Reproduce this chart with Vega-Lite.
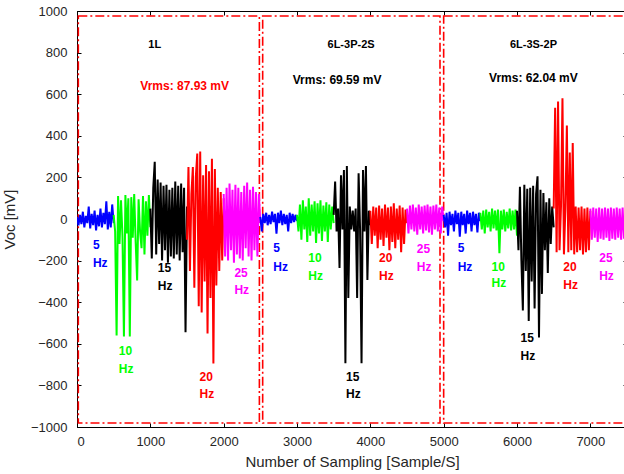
{
"$schema": "https://vega.github.io/schema/vega-lite/v6.json",
"width": 550, "height": 416,
"autosize": {"type": "none"},
"padding": {"left": 77, "top": 11, "right": 0, "bottom": 47},
"background": "white",
"config": {
 "view": {"stroke": "black", "strokeWidth": 1},
 "axis": {"grid": false, "domainColor": "black", "tickColor": "black", "labelFont": "Liberation Sans", "labelFontSize": 13, "labelColor": "#262626", "titleFont": "Liberation Sans", "titleFontSize": 15, "titleFontWeight": "normal", "titleColor": "#262626", "format": "d"}
},
"datasets": {
 "rects": [
  {"x": 18, "x2": 2487, "y": -981, "y2": 976},
  {"x": 2532, "x2": 4950, "y": -981, "y2": 976},
  {"x": 5000, "x2": 7500, "y": -981, "y2": 976}
 ],
 "sig": [
{"x":0,"y":10,"s":"1b"},{"x":20,"y":-30,"s":"1b"},{"x":40,"y":20,"s":"1b"},{"x":60,"y":-25,"s":"1b"},{"x":80,"y":35,"s":"1b"},{"x":100,"y":-40,"s":"1b"},{"x":120,"y":15,"s":"1b"},{"x":140,"y":-20,"s":"1b"},{"x":160,"y":60,"s":"1b"},{"x":180,"y":-45,"s":"1b"},{"x":200,"y":25,"s":"1b"},{"x":220,"y":-30,"s":"1b"},{"x":240,"y":40,"s":"1b"},{"x":260,"y":-55,"s":"1b"},{"x":280,"y":20,"s":"1b"},{"x":300,"y":-35,"s":"1b"},{"x":320,"y":50,"s":"1b"},{"x":340,"y":-40,"s":"1b"},{"x":360,"y":30,"s":"1b"},{"x":380,"y":-25,"s":"1b"},{"x":400,"y":85,"s":"1b"},{"x":420,"y":-50,"s":"1b"},{"x":440,"y":35,"s":"1b"},{"x":460,"y":-40,"s":"1b"},{"x":480,"y":70,"s":"1b"},{"x":500,"y":-20,"s":"1b"},
{"x":500,"y":20,"s":"1g"},{"x":520,"y":-60,"s":"1g"},{"x":540,"y":-560,"s":"1g"},{"x":560,"y":110,"s":"1g"},{"x":580,"y":-120,"s":"1g"},{"x":600,"y":90,"s":"1g"},{"x":620,"y":-80,"s":"1g"},{"x":640,"y":-565,"s":"1g"},{"x":660,"y":115,"s":"1g"},{"x":680,"y":-70,"s":"1g"},{"x":700,"y":100,"s":"1g"},{"x":720,"y":-565,"s":"1g"},{"x":740,"y":105,"s":"1g"},{"x":760,"y":-90,"s":"1g"},{"x":780,"y":120,"s":"1g"},{"x":800,"y":-110,"s":"1g"},{"x":820,"y":-295,"s":"1g"},{"x":840,"y":95,"s":"1g"},{"x":860,"y":-60,"s":"1g"},{"x":880,"y":-140,"s":"1g"},{"x":900,"y":110,"s":"1g"},{"x":920,"y":-170,"s":"1g"},{"x":940,"y":85,"s":"1g"},{"x":960,"y":-80,"s":"1g"},{"x":980,"y":115,"s":"1g"},{"x":1000,"y":-40,"s":"1g"},
{"x":1000,"y":50,"s":"1k"},{"x":1020,"y":-190,"s":"1k"},{"x":1040,"y":150,"s":"1k"},{"x":1060,"y":275,"s":"1k"},{"x":1080,"y":-170,"s":"1k"},{"x":1100,"y":190,"s":"1k"},{"x":1120,"y":-120,"s":"1k"},{"x":1140,"y":175,"s":"1k"},{"x":1160,"y":-200,"s":"1k"},{"x":1180,"y":160,"s":"1k"},{"x":1200,"y":-150,"s":"1k"},{"x":1220,"y":165,"s":"1k"},{"x":1240,"y":-210,"s":"1k"},{"x":1260,"y":140,"s":"1k"},{"x":1280,"y":-180,"s":"1k"},{"x":1300,"y":150,"s":"1k"},{"x":1320,"y":-190,"s":"1k"},{"x":1340,"y":180,"s":"1k"},{"x":1360,"y":-170,"s":"1k"},{"x":1380,"y":160,"s":"1k"},{"x":1400,"y":-200,"s":"1k"},{"x":1420,"y":170,"s":"1k"},{"x":1440,"y":-160,"s":"1k"},{"x":1460,"y":150,"s":"1k"},{"x":1480,"y":-545,"s":"1k"},{"x":1500,"y":60,"s":"1k"},
{"x":1500,"y":-100,"s":"1r"},{"x":1520,"y":250,"s":"1r"},{"x":1540,"y":-250,"s":"1r"},{"x":1560,"y":120,"s":"1r"},{"x":1580,"y":250,"s":"1r"},{"x":1600,"y":-330,"s":"1r"},{"x":1620,"y":200,"s":"1r"},{"x":1640,"y":315,"s":"1r"},{"x":1660,"y":-420,"s":"1r"},{"x":1680,"y":325,"s":"1r"},{"x":1700,"y":-450,"s":"1r"},{"x":1720,"y":210,"s":"1r"},{"x":1740,"y":-300,"s":"1r"},{"x":1760,"y":260,"s":"1r"},{"x":1780,"y":-550,"s":"1r"},{"x":1800,"y":230,"s":"1r"},{"x":1820,"y":-380,"s":"1r"},{"x":1840,"y":290,"s":"1r"},{"x":1860,"y":-695,"s":"1r"},{"x":1880,"y":240,"s":"1r"},{"x":1900,"y":-320,"s":"1r"},{"x":1920,"y":150,"s":"1r"},{"x":1940,"y":-250,"s":"1r"},{"x":1960,"y":130,"s":"1r"},{"x":1980,"y":-200,"s":"1r"},{"x":2000,"y":100,"s":"1r"},
{"x":2000,"y":120,"s":"1m"},{"x":2020,"y":-180,"s":"1m"},{"x":2040,"y":150,"s":"1m"},{"x":2060,"y":-200,"s":"1m"},{"x":2080,"y":170,"s":"1m"},{"x":2100,"y":-150,"s":"1m"},{"x":2120,"y":140,"s":"1m"},{"x":2140,"y":-210,"s":"1m"},{"x":2160,"y":165,"s":"1m"},{"x":2180,"y":-170,"s":"1m"},{"x":2200,"y":150,"s":"1m"},{"x":2220,"y":-190,"s":"1m"},{"x":2240,"y":130,"s":"1m"},{"x":2260,"y":-200,"s":"1m"},{"x":2280,"y":160,"s":"1m"},{"x":2300,"y":-140,"s":"1m"},{"x":2320,"y":175,"s":"1m"},{"x":2340,"y":-180,"s":"1m"},{"x":2360,"y":140,"s":"1m"},{"x":2380,"y":-200,"s":"1m"},{"x":2400,"y":155,"s":"1m"},{"x":2420,"y":-150,"s":"1m"},{"x":2440,"y":130,"s":"1m"},{"x":2460,"y":-180,"s":"1m"},{"x":2480,"y":120,"s":"1m"},{"x":2500,"y":-20,"s":"1m"},
{"x":2500,"y":10,"s":"2b"},{"x":2520,"y":-60,"s":"2b"},{"x":2540,"y":25,"s":"2b"},{"x":2560,"y":-20,"s":"2b"},{"x":2580,"y":30,"s":"2b"},{"x":2600,"y":-30,"s":"2b"},{"x":2620,"y":20,"s":"2b"},{"x":2640,"y":-25,"s":"2b"},{"x":2660,"y":35,"s":"2b"},{"x":2680,"y":-15,"s":"2b"},{"x":2700,"y":25,"s":"2b"},{"x":2720,"y":-70,"s":"2b"},{"x":2740,"y":30,"s":"2b"},{"x":2760,"y":-20,"s":"2b"},{"x":2780,"y":40,"s":"2b"},{"x":2800,"y":-30,"s":"2b"},{"x":2820,"y":25,"s":"2b"},{"x":2840,"y":-25,"s":"2b"},{"x":2860,"y":20,"s":"2b"},{"x":2880,"y":-60,"s":"2b"},{"x":2900,"y":30,"s":"2b"},{"x":2920,"y":-20,"s":"2b"},{"x":2940,"y":25,"s":"2b"},{"x":2960,"y":-15,"s":"2b"},{"x":2980,"y":20,"s":"2b"},{"x":3000,"y":-10,"s":"2b"},
{"x":3000,"y":20,"s":"2g"},{"x":3020,"y":-60,"s":"2g"},{"x":3040,"y":70,"s":"2g"},{"x":3060,"y":-100,"s":"2g"},{"x":3080,"y":90,"s":"2g"},{"x":3100,"y":-50,"s":"2g"},{"x":3120,"y":60,"s":"2g"},{"x":3140,"y":-110,"s":"2g"},{"x":3160,"y":100,"s":"2g"},{"x":3180,"y":-80,"s":"2g"},{"x":3200,"y":70,"s":"2g"},{"x":3220,"y":-60,"s":"2g"},{"x":3240,"y":85,"s":"2g"},{"x":3260,"y":-115,"s":"2g"},{"x":3280,"y":75,"s":"2g"},{"x":3300,"y":-70,"s":"2g"},{"x":3320,"y":90,"s":"2g"},{"x":3340,"y":-105,"s":"2g"},{"x":3360,"y":65,"s":"2g"},{"x":3380,"y":-60,"s":"2g"},{"x":3400,"y":80,"s":"2g"},{"x":3420,"y":-110,"s":"2g"},{"x":3440,"y":70,"s":"2g"},{"x":3460,"y":-50,"s":"2g"},{"x":3480,"y":60,"s":"2g"},{"x":3500,"y":-20,"s":"2g"},
{"x":3500,"y":20,"s":"2k"},{"x":3520,"y":180,"s":"2k"},{"x":3540,"y":-60,"s":"2k"},{"x":3560,"y":50,"s":"2k"},{"x":3580,"y":-236,"s":"2k"},{"x":3600,"y":210,"s":"2k"},{"x":3620,"y":-50,"s":"2k"},{"x":3640,"y":235,"s":"2k"},{"x":3660,"y":-693,"s":"2k"},{"x":3680,"y":255,"s":"2k"},{"x":3700,"y":-380,"s":"2k"},{"x":3720,"y":60,"s":"2k"},{"x":3740,"y":-50,"s":"2k"},{"x":3760,"y":40,"s":"2k"},{"x":3780,"y":-60,"s":"2k"},{"x":3800,"y":50,"s":"2k"},{"x":3820,"y":-380,"s":"2k"},{"x":3840,"y":220,"s":"2k"},{"x":3860,"y":-50,"s":"2k"},{"x":3880,"y":-693,"s":"2k"},{"x":3900,"y":236,"s":"2k"},{"x":3920,"y":-60,"s":"2k"},{"x":3940,"y":255,"s":"2k"},{"x":3960,"y":-293,"s":"2k"},{"x":3980,"y":40,"s":"2k"},{"x":4000,"y":-30,"s":"2k"},
{"x":4000,"y":40,"s":"2r"},{"x":4020,"y":-120,"s":"2r"},{"x":4040,"y":60,"s":"2r"},{"x":4060,"y":-80,"s":"2r"},{"x":4080,"y":55,"s":"2r"},{"x":4100,"y":-140,"s":"2r"},{"x":4120,"y":65,"s":"2r"},{"x":4140,"y":-100,"s":"2r"},{"x":4160,"y":50,"s":"2r"},{"x":4180,"y":-130,"s":"2r"},{"x":4200,"y":70,"s":"2r"},{"x":4220,"y":-90,"s":"2r"},{"x":4240,"y":55,"s":"2r"},{"x":4260,"y":-150,"s":"2r"},{"x":4280,"y":60,"s":"2r"},{"x":4300,"y":-110,"s":"2r"},{"x":4320,"y":75,"s":"2r"},{"x":4340,"y":-140,"s":"2r"},{"x":4360,"y":50,"s":"2r"},{"x":4380,"y":-100,"s":"2r"},{"x":4400,"y":65,"s":"2r"},{"x":4420,"y":-160,"s":"2r"},{"x":4440,"y":55,"s":"2r"},{"x":4460,"y":-120,"s":"2r"},{"x":4480,"y":45,"s":"2r"},{"x":4500,"y":-20,"s":"2r"},
{"x":4500,"y":50,"s":"2m"},{"x":4520,"y":-70,"s":"2m"},{"x":4540,"y":65,"s":"2m"},{"x":4560,"y":-50,"s":"2m"},{"x":4580,"y":70,"s":"2m"},{"x":4600,"y":-60,"s":"2m"},{"x":4620,"y":55,"s":"2m"},{"x":4640,"y":-75,"s":"2m"},{"x":4660,"y":70,"s":"2m"},{"x":4680,"y":-50,"s":"2m"},{"x":4700,"y":60,"s":"2m"},{"x":4720,"y":-70,"s":"2m"},{"x":4740,"y":65,"s":"2m"},{"x":4760,"y":-55,"s":"2m"},{"x":4780,"y":70,"s":"2m"},{"x":4800,"y":-65,"s":"2m"},{"x":4820,"y":60,"s":"2m"},{"x":4840,"y":-75,"s":"2m"},{"x":4860,"y":65,"s":"2m"},{"x":4880,"y":-50,"s":"2m"},{"x":4900,"y":70,"s":"2m"},{"x":4920,"y":-60,"s":"2m"},{"x":4940,"y":55,"s":"2m"},{"x":4960,"y":-70,"s":"2m"},{"x":4980,"y":60,"s":"2m"},{"x":5000,"y":-10,"s":"2m"},
{"x":5000,"y":20,"s":"3b"},{"x":5020,"y":-40,"s":"3b"},{"x":5040,"y":30,"s":"3b"},{"x":5060,"y":-80,"s":"3b"},{"x":5080,"y":35,"s":"3b"},{"x":5100,"y":-30,"s":"3b"},{"x":5120,"y":25,"s":"3b"},{"x":5140,"y":-60,"s":"3b"},{"x":5160,"y":40,"s":"3b"},{"x":5180,"y":-25,"s":"3b"},{"x":5200,"y":30,"s":"3b"},{"x":5220,"y":-85,"s":"3b"},{"x":5240,"y":35,"s":"3b"},{"x":5260,"y":-30,"s":"3b"},{"x":5280,"y":25,"s":"3b"},{"x":5300,"y":-70,"s":"3b"},{"x":5320,"y":40,"s":"3b"},{"x":5340,"y":-25,"s":"3b"},{"x":5360,"y":30,"s":"3b"},{"x":5380,"y":-60,"s":"3b"},{"x":5400,"y":35,"s":"3b"},{"x":5420,"y":-30,"s":"3b"},{"x":5440,"y":25,"s":"3b"},{"x":5460,"y":-65,"s":"3b"},{"x":5480,"y":30,"s":"3b"},{"x":5500,"y":-10,"s":"3b"},
{"x":5500,"y":30,"s":"3g"},{"x":5520,"y":-50,"s":"3g"},{"x":5540,"y":40,"s":"3g"},{"x":5560,"y":-70,"s":"3g"},{"x":5580,"y":45,"s":"3g"},{"x":5600,"y":-40,"s":"3g"},{"x":5620,"y":35,"s":"3g"},{"x":5640,"y":-60,"s":"3g"},{"x":5660,"y":50,"s":"3g"},{"x":5680,"y":-45,"s":"3g"},{"x":5700,"y":40,"s":"3g"},{"x":5720,"y":-55,"s":"3g"},{"x":5740,"y":45,"s":"3g"},{"x":5760,"y":-165,"s":"3g"},{"x":5780,"y":40,"s":"3g"},{"x":5800,"y":-50,"s":"3g"},{"x":5820,"y":45,"s":"3g"},{"x":5840,"y":-60,"s":"3g"},{"x":5860,"y":35,"s":"3g"},{"x":5880,"y":-45,"s":"3g"},{"x":5900,"y":50,"s":"3g"},{"x":5920,"y":-55,"s":"3g"},{"x":5940,"y":40,"s":"3g"},{"x":5960,"y":-50,"s":"3g"},{"x":5980,"y":45,"s":"3g"},{"x":6000,"y":-80,"s":"3g"},
{"x":6000,"y":40,"s":"3k"},{"x":6020,"y":-150,"s":"3k"},{"x":6040,"y":155,"s":"3k"},{"x":6060,"y":-200,"s":"3k"},{"x":6080,"y":-440,"s":"3k"},{"x":6100,"y":165,"s":"3k"},{"x":6120,"y":-250,"s":"3k"},{"x":6140,"y":145,"s":"3k"},{"x":6160,"y":-490,"s":"3k"},{"x":6180,"y":150,"s":"3k"},{"x":6200,"y":-300,"s":"3k"},{"x":6220,"y":160,"s":"3k"},{"x":6240,"y":-430,"s":"3k"},{"x":6260,"y":120,"s":"3k"},{"x":6280,"y":205,"s":"3k"},{"x":6300,"y":-570,"s":"3k"},{"x":6320,"y":140,"s":"3k"},{"x":6340,"y":-360,"s":"3k"},{"x":6360,"y":125,"s":"3k"},{"x":6380,"y":-150,"s":"3k"},{"x":6400,"y":80,"s":"3k"},{"x":6420,"y":-260,"s":"3k"},{"x":6440,"y":100,"s":"3k"},{"x":6460,"y":-120,"s":"3k"},{"x":6480,"y":60,"s":"3k"},{"x":6500,"y":-40,"s":"3k"},
{"x":6500,"y":50,"s":"3r"},{"x":6520,"y":535,"s":"3r"},{"x":6540,"y":-160,"s":"3r"},{"x":6560,"y":565,"s":"3r"},{"x":6580,"y":-150,"s":"3r"},{"x":6600,"y":60,"s":"3r"},{"x":6620,"y":580,"s":"3r"},{"x":6640,"y":-170,"s":"3r"},{"x":6660,"y":50,"s":"3r"},{"x":6680,"y":450,"s":"3r"},{"x":6700,"y":-160,"s":"3r"},{"x":6720,"y":320,"s":"3r"},{"x":6740,"y":-150,"s":"3r"},{"x":6760,"y":365,"s":"3r"},{"x":6780,"y":-170,"s":"3r"},{"x":6800,"y":60,"s":"3r"},{"x":6820,"y":-160,"s":"3r"},{"x":6840,"y":55,"s":"3r"},{"x":6860,"y":-150,"s":"3r"},{"x":6880,"y":60,"s":"3r"},{"x":6900,"y":-170,"s":"3r"},{"x":6920,"y":50,"s":"3r"},{"x":6940,"y":-160,"s":"3r"},{"x":6960,"y":55,"s":"3r"},{"x":6980,"y":-150,"s":"3r"},{"x":7000,"y":40,"s":"3r"},
{"x":7000,"y":50,"s":"3m"},{"x":7020,"y":-100,"s":"3m"},{"x":7040,"y":55,"s":"3m"},{"x":7060,"y":-90,"s":"3m"},{"x":7080,"y":50,"s":"3m"},{"x":7100,"y":-110,"s":"3m"},{"x":7120,"y":55,"s":"3m"},{"x":7140,"y":-95,"s":"3m"},{"x":7160,"y":50,"s":"3m"},{"x":7180,"y":-100,"s":"3m"},{"x":7200,"y":55,"s":"3m"},{"x":7220,"y":-90,"s":"3m"},{"x":7240,"y":50,"s":"3m"},{"x":7260,"y":-105,"s":"3m"},{"x":7280,"y":55,"s":"3m"},{"x":7300,"y":-95,"s":"3m"},{"x":7320,"y":50,"s":"3m"},{"x":7340,"y":-100,"s":"3m"},{"x":7360,"y":55,"s":"3m"},{"x":7380,"y":-90,"s":"3m"},{"x":7400,"y":50,"s":"3m"},{"x":7420,"y":-100,"s":"3m"},{"x":7440,"y":55,"s":"3m"},{"x":7460,"y":-95,"s":"3m"},{"x":7480,"y":50,"s":"3m"},{"x":7500,"y":-20,"s":"3m"}
 ],
 "names": [
  {"x": 1060, "y": 837, "t": "1L", "s": "1k"},
  {"x": 3737, "y": 837, "t": "6L-3P-2S", "s": "1k"},
  {"x": 6224, "y": 837, "t": "6L-3S-2P", "s": "1k"}
 ],
 "vrms": [
  {"x": 1468, "y": 640, "t": "Vrms: 87.93 mV", "s": "1r"},
  {"x": 3547, "y": 668, "t": "Vrms: 69.59 mV", "s": "1k"},
  {"x": 6224, "y": 678, "t": "Vrms: 62.04 mV", "s": "1k"}
 ],
 "hz": [
  {"x": 217, "y": -125, "t": "5", "s": "1b"}, {"x": 217, "y": -212, "t": "Hz", "s": "1b"},
  {"x": 571, "y": -635, "t": "10", "s": "1g"}, {"x": 571, "y": -721, "t": "Hz", "s": "1g"},
  {"x": 1101, "y": -236, "t": "15", "s": "1k"}, {"x": 1101, "y": -322, "t": "Hz", "s": "1k"},
  {"x": 1672, "y": -760, "t": "20", "s": "1r"}, {"x": 1672, "y": -841, "t": "Hz", "s": "1r"},
  {"x": 2147, "y": -260, "t": "25", "s": "1m"}, {"x": 2147, "y": -341, "t": "Hz", "s": "1m"},
  {"x": 2677, "y": -139, "t": "5", "s": "2b"}, {"x": 2677, "y": -231, "t": "Hz", "s": "2b"},
  {"x": 3153, "y": -188, "t": "10", "s": "2g"}, {"x": 3153, "y": -274, "t": "Hz", "s": "2g"},
  {"x": 3669, "y": -760, "t": "15", "s": "2k"}, {"x": 3669, "y": -841, "t": "Hz", "s": "2k"},
  {"x": 4118, "y": -188, "t": "20", "s": "2r"}, {"x": 4118, "y": -274, "t": "Hz", "s": "2r"},
  {"x": 4634, "y": -144, "t": "25", "s": "2m"}, {"x": 4634, "y": -231, "t": "Hz", "s": "2m"},
  {"x": 5191, "y": -139, "t": "5", "s": "3b"}, {"x": 5191, "y": -231, "t": "Hz", "s": "3b"},
  {"x": 5653, "y": -231, "t": "10", "s": "3g"}, {"x": 5653, "y": -308, "t": "Hz", "s": "3g"},
  {"x": 6048, "y": -572, "t": "15", "s": "3k"}, {"x": 6048, "y": -659, "t": "Hz", "s": "3k"},
  {"x": 6632, "y": -231, "t": "20", "s": "3r"}, {"x": 6632, "y": -317, "t": "Hz", "s": "3r"},
  {"x": 7121, "y": -188, "t": "25", "s": "3m"}, {"x": 7121, "y": -274, "t": "Hz", "s": "3m"}
 ]
},
"encoding": {
 "x": {"field": "x", "type": "quantitative", "scale": {"domain": [0, 7500], "nice": false, "zero": false}},
 "y": {"field": "y", "type": "quantitative", "scale": {"domain": [-1000, 1000], "nice": false}}
},
"layer": [
 {
  "data": {"name": "rects"},
  "mark": {"type": "rect", "fill": null, "fillOpacity": 0, "stroke": "#ff0000", "strokeWidth": 1.6, "strokeDash": [9, 3, 2, 3], "clip": true},
  "encoding": {
   "x": {"field": "x", "type": "quantitative", "axis": {"orient": "top", "labels": false, "title": null, "values": [0,1000,2000,3000,4000,5000,6000,7000], "tickSize": -4}},
   "x2": {"field": "x2"},
   "y": {"field": "y", "type": "quantitative", "axis": {"orient": "right", "labels": false, "title": null, "values": [-1000,-800,-600,-400,-200,0,200,400,600,800,1000], "tickSize": -4}},
   "y2": {"field": "y2"}
  }
 },
 {
  "data": {"name": "sig"},
  "mark": {"type": "line", "strokeWidth": 2, "clip": true},
  "encoding": {
   "x": {"field": "x", "type": "quantitative", "axis": {"orient": "bottom", "title": "Number of Sampling [Sample/S]", "values": [0,1000,2000,3000,4000,5000,6000,7000], "tickSize": -4, "labelPadding": 12, "titlePadding": 6}},
   "y": {"field": "y", "type": "quantitative", "axis": {"orient": "left", "title": "Voc [mV]", "values": [-1000,-800,-600,-400,-200,0,200,400,600,800,1000], "tickSize": -4, "labelPadding": 14, "titlePadding": 13}},
   "detail": {"field": "s"},
   "color": {"field": "s", "type": "nominal", "legend": null, "scale": {
     "domain": ["1b","1g","1k","1r","1m","2b","2g","2k","2r","2m","3b","3g","3k","3r","3m"],
     "range": ["#0000ff","#00ff00","#000000","#ff0000","#ff00ff","#0000ff","#00ff00","#000000","#ff0000","#ff00ff","#0000ff","#00ff00","#000000","#ff0000","#ff00ff"]}}
  }
 },
 {
  "data": {"name": "names"},
  "mark": {"type": "text", "font": "Liberation Sans", "fontWeight": "bold", "fontSize": 11, "align": "center", "baseline": "middle"},
  "encoding": {
   "x": {"field": "x", "type": "quantitative", "axis": null},
   "y": {"field": "y", "type": "quantitative", "axis": null},
   "text": {"field": "t"},
   "color": {"field": "s", "type": "nominal", "legend": null}
  }
 },
 {
  "data": {"name": "vrms"},
  "mark": {"type": "text", "font": "Liberation Sans", "fontWeight": "bold", "fontSize": 12, "align": "center", "baseline": "middle"},
  "encoding": {
   "x": {"field": "x", "type": "quantitative", "axis": null},
   "y": {"field": "y", "type": "quantitative", "axis": null},
   "text": {"field": "t"},
   "color": {"field": "s", "type": "nominal", "legend": null}
  }
 },
 {
  "data": {"name": "hz"},
  "mark": {"type": "text", "font": "Liberation Sans", "fontWeight": "bold", "fontSize": 12, "align": "left", "baseline": "middle"},
  "encoding": {
   "x": {"field": "x", "type": "quantitative", "axis": null},
   "y": {"field": "y", "type": "quantitative", "axis": null},
   "text": {"field": "t"},
   "color": {"field": "s", "type": "nominal", "legend": null}
  }
 }
],
"resolve": {"axis": {"x": "independent", "y": "independent"}}
}
